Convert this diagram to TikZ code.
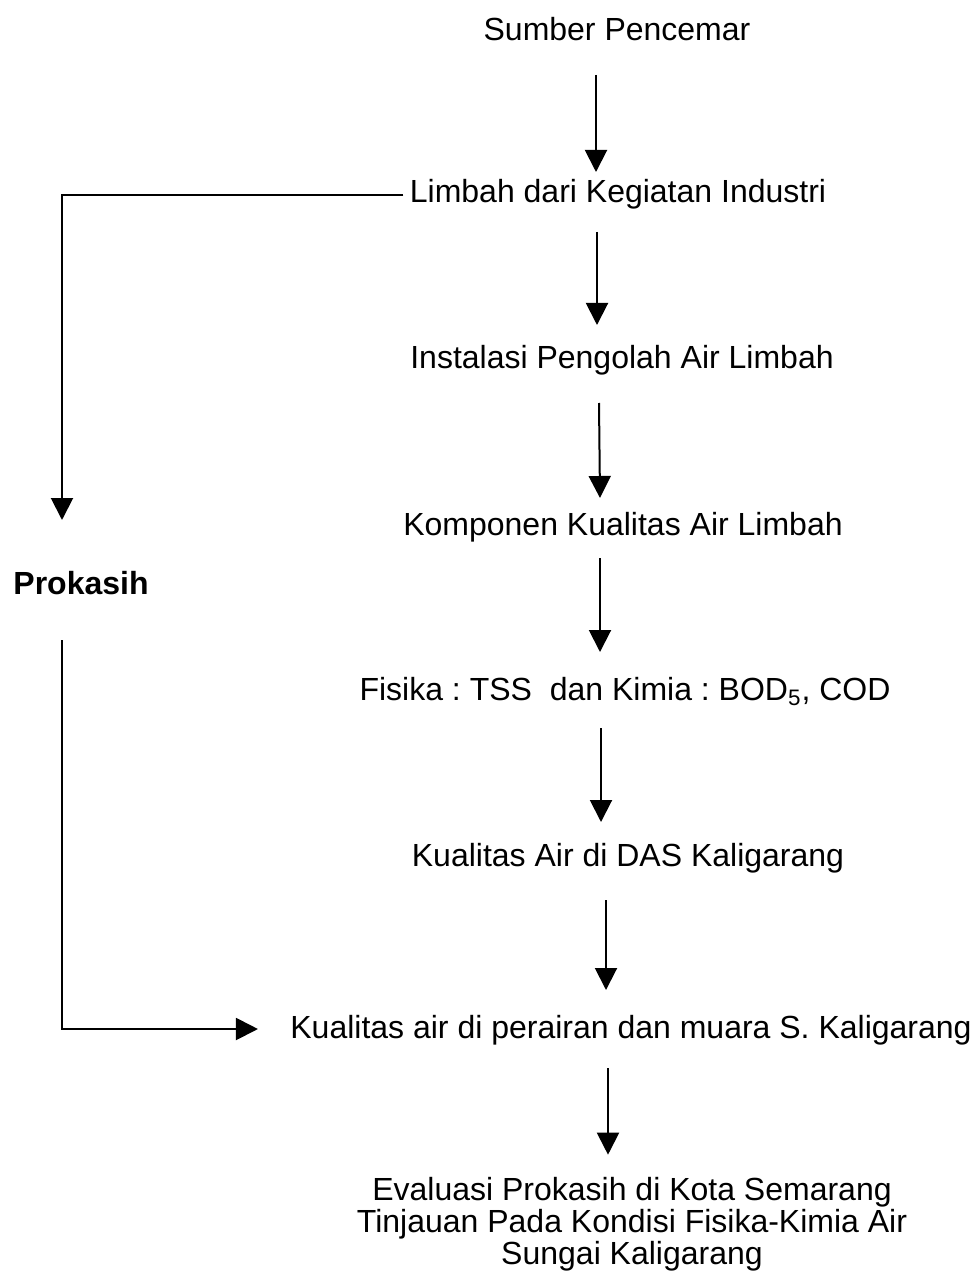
\documentclass[tikz,border=0pt]{standalone}
\usepackage{fontspec}
\setmainfont{Liberation Sans}
\usetikzlibrary{arrows.meta,calc}
\frenchspacing
\begin{document}
\begin{tikzpicture}[x=0.5pt,y=-0.5pt,
  lbl/.style={inner sep=1pt,font=\fontsize{16}{16.5}\selectfont,text height=11.5pt,text depth=3.4pt},
  arr/.style={line width=1pt,-{Triangle[length=11pt,width=11pt]}},
  ln/.style={line width=1pt}]
\useasboundingbox (0,0) rectangle (977,1278);
\node[lbl] (n1) at (617,32) {Sumber Pencemar};
\node[lbl] (n2) at (618,194) {Limbah dari Kegiatan Industri};
\node[lbl] (n3) at (622,360) {Instalasi Pengolah Air Limbah};
\node[lbl] (n4) at (623,527) {Komponen Kualitas Air Limbah};
\node[lbl] (n5) at (625,692) {Fisika : TSS\ \ dan Kimia : BOD\textsubscript{5}, COD};
\node[lbl] (n6) at (628,858) {Kualitas Air di DAS Kaligarang};
\node[lbl] (n7) at (631,1030) {Kualitas air di perairan dan muara S. Kaligarang};
\node[inner sep=1pt,font=\fontsize{16}{16}\selectfont,align=center] (n8) at (632,1224)
  {Evaluasi Prokasih di Kota Semarang\\Tinjauan Pada Kondisi Fisika-Kimia Air\\Sungai Kaligarang};
\node[lbl,font=\fontsize{16}{16.5}\selectfont\bfseries] (p) at (81,586) {Prokasih};

\draw[arr] ($(n1.center)+(-21,43)$) -- ($(n2.center)+(-22,-22)$);
\draw[arr] ($(n2.center)+(-21,38)$) -- ($(n3.center)+(-25,-35)$);
\draw[arr] ($(n3.center)+(-23,43)$) -- ($(n4.center)+(-23,-29)$);
\draw[arr] ($(n4.center)+(-23,31)$) -- ($(n5.center)+(-25,-40)$);
\draw[arr] ($(n5.center)+(-24,36)$) -- ($(n6.center)+(-27,-36)$);
\draw[arr] ($(n6.center)+(-22,42)$) -- ($(n7.center)+(-25,-40)$);
\draw[arr] ($(n7.center)+(-23,38)$) -- ($(n8.north)+(-24,-20)$);

\draw[arr] ($(n2.west)+(-4,1)$) -| ($(p.center)+(-19,-66)$);
\draw[arr] ($(p.center)+(-19,54)$) |- ($(n7.west)+(-30,-1)$);
\end{tikzpicture}
\end{document}
